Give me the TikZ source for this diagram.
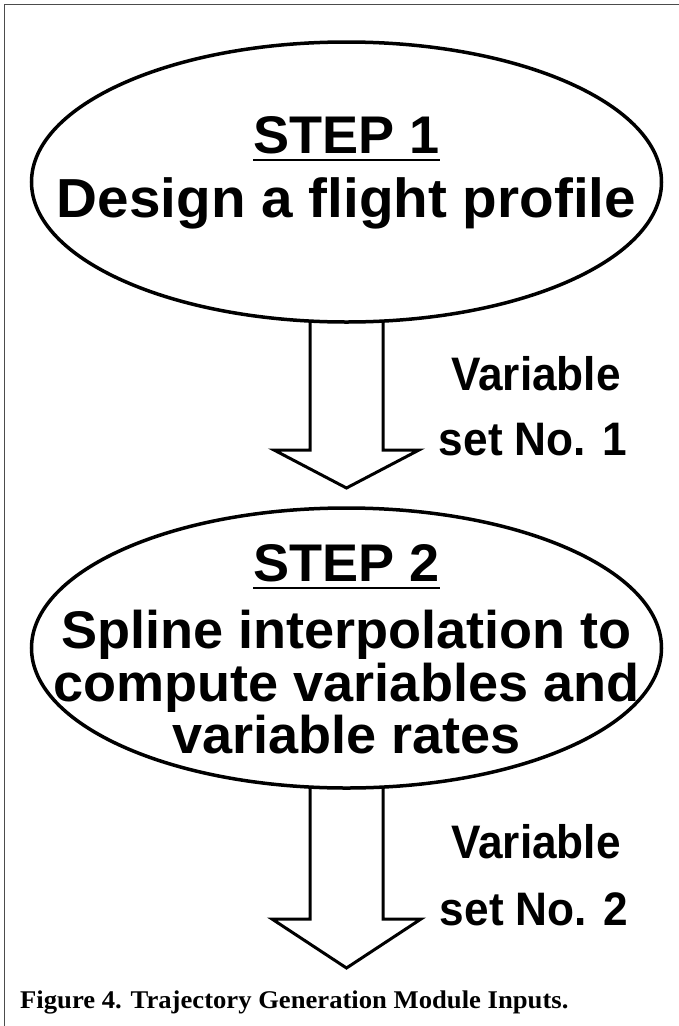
\documentclass[tikz,border=0pt]{standalone}
\usepackage{fontspec}
\setmainfont{Liberation Sans}
\newfontfamily\captionserif{Liberation Serif}
\usetikzlibrary{shapes.geometric,backgrounds,calc}

\tikzset{
  stepoval/.style={ellipse, draw=black, fill=white, line width=3.5pt,
    minimum width=630pt, minimum height=280pt, inner sep=0pt},
  steptext/.style={font=\fontsize{53}{53}\selectfont\bfseries,
    inner sep=0pt, anchor=base, xscale=1.02},
  bigsteptext/.style={steptext, font=\fontsize{55}{55}\selectfont\bfseries,
    xscale=1.01},
  sidetext/.style={font=\fontsize{47}{47}\selectfont\bfseries,
    inner sep=0pt, anchor=base, xscale=0.94},
  titlerule/.style={line width=2.5pt},
  blockarrow/.style={draw=black, line width=3pt, line join=miter},
  frameline/.style={draw=black!70, line width=1.5pt},
  captiontext/.style={font=\captionserif\fontsize{25.5}{25.5}\selectfont\bfseries,
    inner sep=0pt, anchor=base west, xscale=1.045},
}

\begin{document}
\begin{tikzpicture}[x=1pt, y=-1pt]
\useasboundingbox (0,0) rectangle (679,1026);

% outer frame (top and left edges only)
\draw[frameline] (679,4.5) -- (4.5,4.5) -- (4.5,1026);

% the two process ovals
\node[stepoval] (step1) at (346.5,182) {};
\node[stepoval] (step2) at (346.5,648) {};

% text of step 1
\node[steptext] (s1title) at (346.5,153) {STEP 1};
\draw[titlerule] ([yshift=-7]s1title.base west) -- ([yshift=-7]s1title.base east);
\node[bigsteptext] (s1body) at (346.5,217) {Design a flight profile};

% text of step 2
\node[steptext] (s2title) at (346.5,581) {STEP 2};
\draw[titlerule] ([yshift=-7]s2title.base west) -- ([yshift=-7]s2title.base east);
\node[steptext] (s2line1) at (346.5,648) {Spline interpolation to};
\node[steptext] (s2line2) at (346.5,701) {compute variables and};
\node[steptext] (s2line3) at (346.5,753) {variable rates};

% block arrows leaving the ovals (tops hidden behind the ovals)
\coordinate (tip1) at ($(step1.center)+(0,306)$);
\coordinate (tip2) at ($(step2.center)+(0,320)$);
\begin{scope}[on background layer]
\draw[blockarrow]
  ($(step1.center)+(-36.5,0)$) -- ++(0,268) -- ++(-36,0) -- (tip1)
  -- ($(step1.center)+(72.5,268)$) -- ++(-36,0) -- ($(step1.center)+(36.5,0)$);
\draw[blockarrow]
  ($(step2.center)+(-36.5,0)$) -- ++(0,271) -- ++(-38,0) -- (tip2)
  -- ($(step2.center)+(74.5,271)$) -- ++(-38,0) -- ($(step2.center)+(36.5,0)$);
\end{scope}

% arrow labels
\node[sidetext] (v1a) at (536,390) {Variable};
\node[sidetext] (v1b) at (533,455) {set No. 1};
\node[sidetext] (v2a) at (536,858) {Variable};
\node[sidetext] (v2b) at (534,925) {set No. 2};

% caption
\node[captiontext] (caption) at (20,1008) {Figure 4. Trajectory Generation Module Inputs.};
\end{tikzpicture}
\end{document}
